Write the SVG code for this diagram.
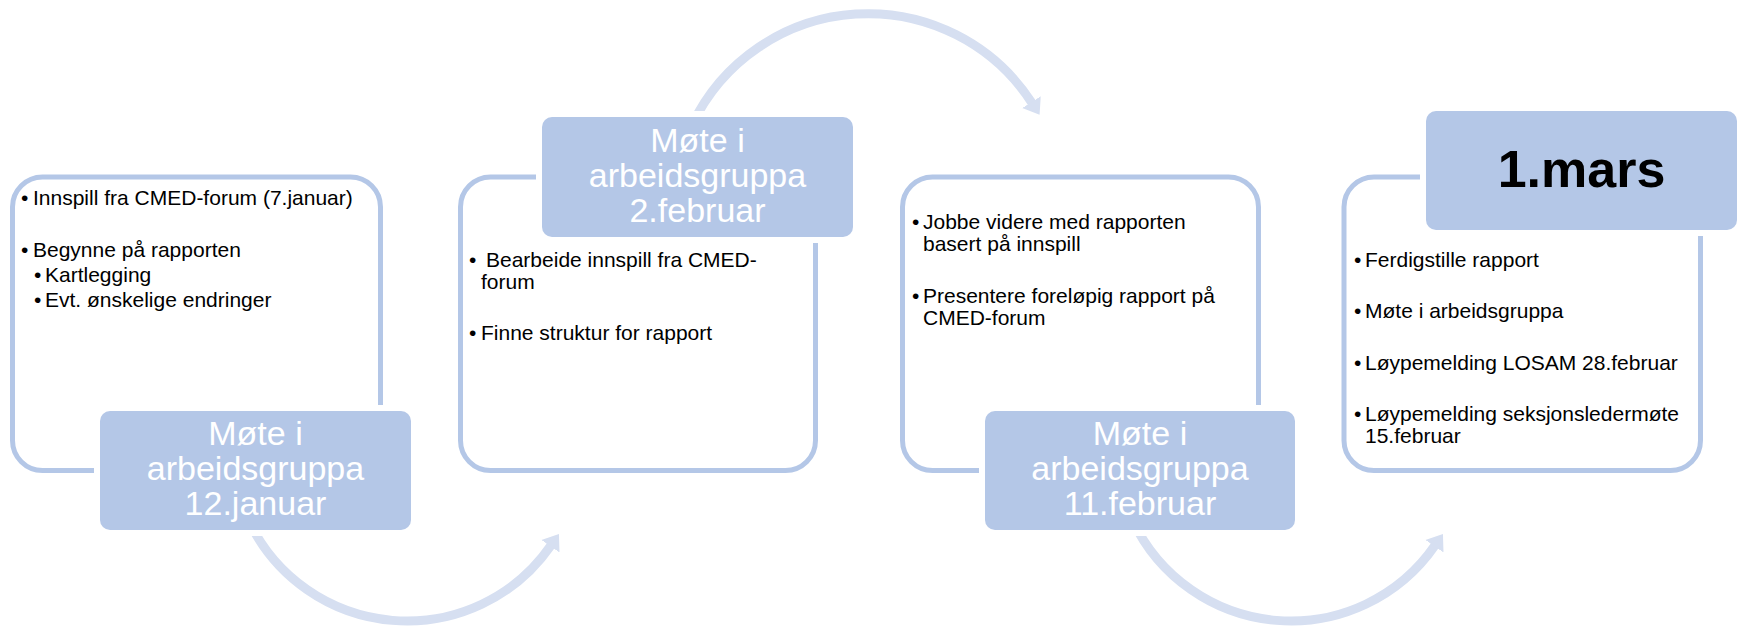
<svg xmlns="http://www.w3.org/2000/svg" width="1738" height="627" viewBox="0 0 1738 627">
  <style>
    .card { fill: #FFFFFF; stroke: #B4C7E7; stroke-width: 5; }
    .gap { fill: #FFFFFF; }
    .label { fill: #B4C7E7; }
    .ltxt { font-family: "Liberation Sans", Arial, sans-serif; font-size: 34px; fill: #FFFFFF; text-anchor: middle; }
    .btxt { font-family: "Liberation Sans", Arial, sans-serif; font-size: 21px; fill: #000000; }
    .big { font-family: "Liberation Sans", Arial, sans-serif; font-size: 52px; font-weight: bold; fill: #000000; text-anchor: middle; }
    .arc { fill: none; stroke: #D6DFF1; stroke-width: 9; }
  </style>
  <defs>
    <marker id="head" markerUnits="userSpaceOnUse" markerWidth="16" markerHeight="24" viewBox="0 0 16 24" refX="1" refY="12" orient="auto">
      <path d="M0,1 L15,12 L0,23 Z" fill="#D6DFF1"/>
    </marker>
  </defs>
  <rect width="1738" height="627" fill="#FFFFFF"/>

  <g id="connectors">
    <path class="arc" d="M 248.4 520 A 175 175 0 0 0 551 545.4" marker-end="url(#head)"/>
    <path class="arc" d="M 692 125 A 195 195 0 0 1 1032 103" marker-end="url(#head)"/>
    <path class="arc" d="M 1132.4 520 A 175 175 0 0 0 1435 545.4" marker-end="url(#head)"/>
  </g>

  <g id="card1">
    <rect class="card" x="12.5" y="177" width="368" height="293.5" rx="30"/>
    <text class="btxt" x="21" y="205">•</text>
    <text class="btxt" x="33" y="205">Innspill fra CMED-forum (7.januar)</text>
    <text class="btxt" x="21" y="257">•</text>
    <text class="btxt" x="33" y="257">Begynne på rapporten</text>
    <text class="btxt" x="34" y="282">•</text>
    <text class="btxt" x="45" y="282">Kartlegging</text>
    <text class="btxt" x="34" y="307">•</text>
    <text class="btxt" x="45" y="307">Evt. ønskelige endringer</text>
  </g>
  <g id="label1">
    <rect class="gap" x="94" y="405" width="323" height="131" rx="16"/>
    <rect class="label" x="100" y="411" width="311" height="119" rx="10"/>
    <text class="ltxt" x="255.5" y="445">Møte i</text>
    <text class="ltxt" x="255.5" y="480">arbeidsgruppa</text>
    <text class="ltxt" x="255.5" y="515">12.januar</text>
  </g>

  <g id="card2">
    <rect class="card" x="460.5" y="177" width="355" height="293.5" rx="30"/>
    <text class="btxt" x="469" y="267">•</text>
    <text class="btxt" x="486" y="267">Bearbeide innspill fra CMED-</text>
    <text class="btxt" x="481" y="289">forum</text>
    <text class="btxt" x="469" y="340">•</text>
    <text class="btxt" x="481" y="340">Finne struktur for rapport</text>
  </g>
  <g id="label2">
    <rect class="gap" x="536" y="111" width="323" height="132" rx="16"/>
    <rect class="label" x="542" y="117" width="311" height="120" rx="10"/>
    <text class="ltxt" x="697.5" y="152">Møte i</text>
    <text class="ltxt" x="697.5" y="187">arbeidsgruppa</text>
    <text class="ltxt" x="697.5" y="222">2.februar</text>
  </g>

  <g id="card3">
    <rect class="card" x="902.5" y="177" width="356" height="293.5" rx="30"/>
    <text class="btxt" x="912" y="229">•</text>
    <text class="btxt" x="923" y="229">Jobbe videre med rapporten</text>
    <text class="btxt" x="923" y="251">basert på innspill</text>
    <text class="btxt" x="912" y="303">•</text>
    <text class="btxt" x="923" y="303">Presentere foreløpig rapport på</text>
    <text class="btxt" x="923" y="325">CMED-forum</text>
  </g>
  <g id="label3">
    <rect class="gap" x="979" y="405" width="322" height="131" rx="16"/>
    <rect class="label" x="985" y="411" width="310" height="119" rx="10"/>
    <text class="ltxt" x="1140" y="445">Møte i</text>
    <text class="ltxt" x="1140" y="480">arbeidsgruppa</text>
    <text class="ltxt" x="1140" y="515">11.februar</text>
  </g>

  <g id="card4">
    <rect class="card" x="1344" y="177" width="356.5" height="293.5" rx="30"/>
    <text class="btxt" x="1354" y="267">•</text>
    <text class="btxt" x="1365" y="267">Ferdigstille rapport</text>
    <text class="btxt" x="1354" y="318">•</text>
    <text class="btxt" x="1365" y="318">Møte i arbeidsgruppa</text>
    <text class="btxt" x="1354" y="370">•</text>
    <text class="btxt" x="1365" y="370">Løypemelding LOSAM 28.februar</text>
    <text class="btxt" x="1354" y="421">•</text>
    <text class="btxt" x="1365" y="421">Løypemelding seksjonsledermøte</text>
    <text class="btxt" x="1365" y="443">15.februar</text>
  </g>
  <g id="label4">
    <rect class="gap" x="1420" y="105" width="318" height="131" rx="16"/>
    <rect class="label" x="1426" y="111" width="311" height="119" rx="10"/>
    <text class="big" x="1581.5" y="187">1.mars</text>
  </g>
</svg>
